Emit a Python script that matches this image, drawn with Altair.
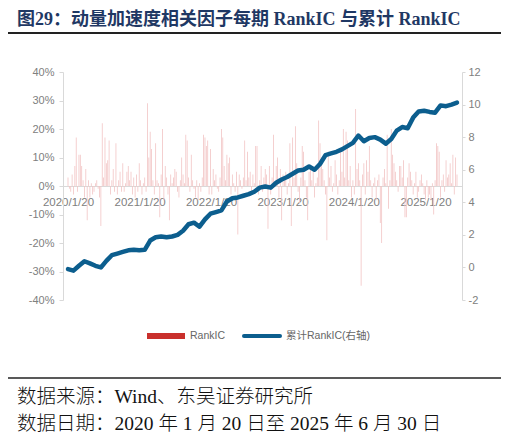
import altair as alt
import pandas as pd

title_text = "图29：动量加速度相关因子每期 RankIC 与累计 RankIC"
source_text = "数据来源：Wind、东吴证券研究所"
date_text = "数据日期：2020 年 1 月 20 日至 2025 年 6 月 30 日"
legend_labels = ["RankIC", "累计RankIC(右轴)"]

# weekly RankIC, in percent
ic_2020 = [3, -1, -2, 4, -3, 7, 17, -2, 11, 11, 7, 2, -4,
           6, -12, 2, -4, 1, -3, -2, 1, 2, -1, -4, -14, 22,
           3, 17, 8, 9, 16, -3, 2, 6, -2, 15, -3, 2, 5,
           -2, 8, -2, 1, 5, 7, 2, 5, -3, 3, -4, 4, -2]
ic_2021 = [8, 2, -3, 1, 3, -2, 29, 10, 19, 13, 2, -3, 15,
           2, 1, -11, 4, 20, -5, 7, 3, -3, -12, 4, 1, 3,
           6, 5, -2, -4, 2, 10, 4, 1, 18, 16, 3, -2, 11,
           2, -1, -4, 2, -5, 1, -2, 3, 18, 17, 14, 16, -3]
ic_2022 = [13, -3, 6, 2, 4, -1, -2, 3, 20, 17, 7, 2, 11,
           8, 10, -3, 4, 1, -2, 5, -17, 4, 2, -1, 3, 16,
           2, 12, 3, 5, -2, 4, 1, 14, 14, -3, 2, 7, -2,
           3, 6, 4, -15, 7, -3, 3, 18, 1, 7, 10, -4, 6]
ic_2023 = [-12, 4, 2, 5, -3, 1, 15, -14, 17, 3, 21, 8, -2,
           -6, 3, 14, 12, 2, -4, -12, 5, 7, 2, 5, -4, 1,
           3, 23, 15, 10, 6, 2, -3, -19, 12, 3, 7, -2, 1,
           9, 4, -3, 2, 13, 5, 20, 3, 19, 16, 2, 7, -4]
ic_2024 = [2, -3, 27, 6, 8, 2, -35, 4, 8, -3, 9, 5, 14,
           2, -4, 1, 3, -5, 2, 4, -13, -20, 3, 6, 1, 18,
           -8, 2, 20, 11, 8, 5, 2, -2, 7, 7, 3, 9, -11,
           -11, 3, 8, 5, 2, -3, 1, 5, -4, -2, 2, 4, 1]
ic_2025 = [-3, -5, 2, -4, -3, -5, 1, -10, 2, 15, 14, 12, -4,
           2, 4, -2, 9, 3, 4, 8, 1, 11, -3, 10, 4]
rank_ic = [v / 100 for v in ic_2020 + ic_2021 + ic_2022 + ic_2023 + ic_2024 + ic_2025]

# cumulative RankIC (right axis), read every 4 weeks
cum_rank_ic = [-0.1, -0.2, 0.1, 0.38, 0.25, 0.1, 0.0, 0.4, 0.75, 0.85, 0.95, 1.05,
               1.08, 1.05, 1.08, 1.65, 1.85, 1.9, 1.85, 1.9, 2.0, 2.25, 2.65, 2.75,
               2.5, 2.95, 3.3, 3.4, 3.5, 4.05, 4.25, 4.3, 4.4, 4.5, 4.65, 4.9,
               4.97, 4.9, 5.2, 5.4, 5.55, 5.75, 5.95, 6.0, 6.2, 6.0, 6.35, 6.9,
               7.0, 7.1, 7.25, 7.45, 7.65, 8.1, 7.75, 7.95, 8.0, 7.85, 7.6, 7.88,
               8.4, 8.62, 8.55, 9.2, 9.58, 9.62, 9.55, 9.5, 9.95, 9.9, 10.0, 10.12]

bars_df = pd.DataFrame({
    "date": pd.date_range("2020-01-20", periods=len(rank_ic), freq="7D"),
    "ic": rank_ic,
})
line_df = pd.DataFrame({
    "date": pd.date_range("2020-01-20", periods=len(cum_rank_ic), freq="28D"),
    "cum": cum_rank_ic,
})
one = pd.DataFrame({"k": [0]})

SANS = "Liberation Sans, Noto Sans CJK SC"
SERIF = "Liberation Serif, Noto Sans CJK SC"
RED = "#C9302C"
BLUE = "#0C5E8E"
GREY = "#D9D9D9"

x_enc = alt.X(
    "date:T",
    scale=alt.Scale(domain=[alt.DateTime(year=2020, month=1, date=20),
                            alt.DateTime(year=2025, month=6, date=30)], nice=False),
    axis=alt.Axis(values=[alt.DateTime(year=y, month=1, date=20) for y in range(2020, 2026)],
                  format="%Y/%-m/%-d", labelAngle=0, ticks=False, grid=False,
                  domainColor=GREY, offset=-114, labelPadding=10, labelFlush=False,
                  labelOverlap=False, labelColor="#808080", labelFontSize=11.5,
                  labelFont=SANS, title=None, zindex=0),
)

bars = alt.Chart(bars_df).mark_bar(size=0.8, color="#F2C4C4").encode(
    x=x_enc,
    y=alt.Y("ic:Q", scale=alt.Scale(domain=[-0.4, 0.4], nice=False),
            axis=alt.Axis(values=[-0.4, -0.3, -0.2, -0.1, 0, 0.1, 0.2, 0.3, 0.4],
                          labelExpr="round(datum.value * 100) + '%'",
                          grid=False, domainColor=GREY, tickColor=GREY, tickSize=4,
                          labelPadding=5, labelColor="#808080", labelFontSize=11,
                          labelFont=SANS, title=None, zindex=0)),
)

line = alt.Chart(line_df).mark_line(color=BLUE, strokeWidth=4.5, strokeCap="round",
                                    strokeJoin="round").encode(
    x=alt.X("date:T"),
    y=alt.Y("cum:Q", scale=alt.Scale(domain=[-2, 12], nice=False),
            axis=alt.Axis(orient="right", values=list(range(-2, 13, 2)),
                          labelExpr="'' + datum.value",
                          grid=False, domainColor=GREY, tickColor=GREY, tickSize=3,
                          labelPadding=3, labelColor="#808080", labelFontSize=11,
                          labelFont=SANS, title=None, zindex=0)),
)


def label(text, x, y, size, color, font, weight="normal"):
    return alt.Chart(one).mark_text(
        align="left", baseline="middle", fontSize=size, font=font,
        fontWeight=weight, color=color,
    ).encode(x=alt.value(x), y=alt.value(y), text=alt.value(text))


def hline(x1, x2, y, width, color, cap="butt"):
    return alt.Chart(one).mark_rule(strokeWidth=width, color=color, strokeCap=cap).encode(
        x=alt.value(x1), x2=alt.value(x2), y=alt.value(y))


decor = [
    label(title_text, -46, -52, 18, "#1F3864", SERIF, "bold"),
    hline(-58, 440, -39, 2, "#222222"),
    hline(84, 122, 264, 6, RED),
    label(legend_labels[0], 127, 264, 10.5, "#666666", SANS),
    hline(181, 217, 264, 4, BLUE, "round"),
    label(legend_labels[1], 223, 264, 10.5, "#666666", SANS),
    hline(-58, 440, 306, 1.5, "#222222"),
    label(source_text, -46, 325, 19.5, "#111111", SERIF, 300),
    label(date_text, -46, 352, 19.5, "#111111", SERIF, 300),
]

chart = alt.layer(bars, line, *decor).resolve_scale(
    y="independent"
).properties(
    width=399,
    height=228,
    padding={"left": 55, "top": 64, "right": 39, "bottom": 133},
    autosize=alt.AutoSizeParams(type="none"),
).configure_view(
    stroke=None
)

chart.save("out.html", embed_options={"renderer": "svg", "actions": False})
